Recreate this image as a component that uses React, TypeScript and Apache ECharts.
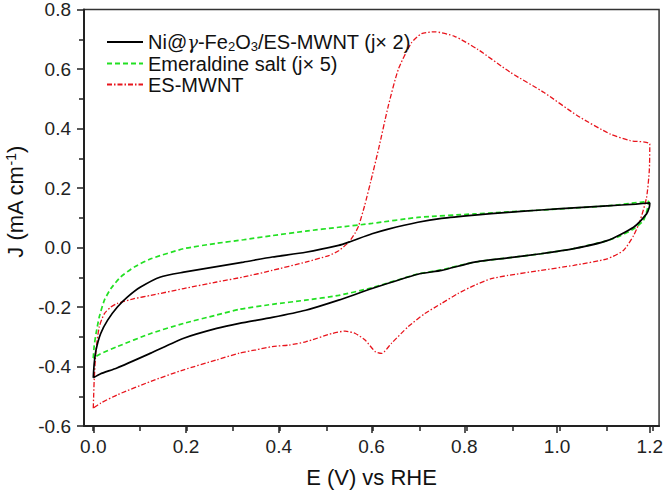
import React, { useEffect, useRef } from "react";
import * as echarts from "echarts";

// Ni@γ-Fe2O3/ES-MWNT (j×2)
const niE = [0, 0.002, 0.006, 0.016, 0.031, 0.052, 0.074, 0.102, 0.145, 0.195, 0.266, 0.324, 0.386, 0.458, 0.529, 0.551, 0.601, 0.636, 0.7, 0.751, 0.822, 0.894, 0.965, 1.036, 1.108, 1.17, 1.2, 1.199, 1.193, 1.165, 1.108, 1.036, 0.965, 0.894, 0.822, 0.751, 0.7, 0.601, 0.529, 0.458, 0.386, 0.315, 0.266, 0.195, 0.124, 0.051, 0.015, 0];
const niJ = [-0.438, -0.39, -0.344, -0.289, -0.244, -0.2, -0.166, -0.133, -0.099, -0.083, -0.064, -0.049, -0.032, -0.016, 0.007, 0.018, 0.046, 0.062, 0.085, 0.098, 0.109, 0.118, 0.126, 0.133, 0.14, 0.146, 0.15, 0.135, 0.113, 0.068, 0.023, -0.004, -0.021, -0.035, -0.049, -0.077, -0.09, -0.138, -0.177, -0.211, -0.235, -0.255, -0.272, -0.305, -0.355, -0.405, -0.425, -0.438];

// Emeraldine salt (j×5)
const esE = [0, 0.002, 0.006, 0.013, 0.024, 0.038, 0.059, 0.088, 0.124, 0.195, 0.266, 0.324, 0.386, 0.458, 0.529, 0.601, 0.7, 0.822, 0.965, 1.108, 1.179, 1.198, 1.195, 1.186, 1.165, 1.137, 1.108, 1.036, 0.965, 0.894, 0.822, 0.751, 0.7, 0.601, 0.529, 0.458, 0.386, 0.315, 0.266, 0.195, 0.124, 0.052, 0.015, 0];
const esJ = [-0.372, -0.33, -0.289, -0.233, -0.177, -0.138, -0.099, -0.066, -0.038, -0.004, 0.014, 0.026, 0.04, 0.055, 0.068, 0.081, 0.101, 0.113, 0.126, 0.14, 0.152, 0.155, 0.13, 0.09, 0.062, 0.04, 0.023, -0.004, -0.021, -0.035, -0.049, -0.075, -0.089, -0.135, -0.161, -0.177, -0.191, -0.208, -0.227, -0.255, -0.289, -0.333, -0.358, -0.372];

// ES-MWNT
const mwE = [0, 0.001, 0.002, 0.006, 0.013, 0.024, 0.038, 0.052, 0.088, 0.124, 0.195, 0.266, 0.324, 0.386, 0.458, 0.508, 0.53, 0.551, 0.565, 0.572, 0.585, 0.598, 0.615, 0.636, 0.658, 0.686, 0.708, 0.736, 0.779, 0.829, 0.9, 0.972, 1.044, 1.115, 1.158, 1.2, 1.199, 1.193, 1.179, 1.165, 1.143, 1.108, 1.036, 0.965, 0.894, 0.858, 0.822, 0.786, 0.751, 0.715, 0.679, 0.643, 0.622, 0.608, 0.586, 0.565, 0.543, 0.515, 0.458, 0.422, 0.386, 0.351, 0.315, 0.266, 0.195, 0.124, 0.052, 0.016, 0.002, 0];
const mwJ = [-0.54, -0.49, -0.445, -0.344, -0.266, -0.222, -0.2, -0.188, -0.172, -0.161, -0.138, -0.116, -0.099, -0.077, -0.049, -0.027, -0.01, 0.018, 0.05, 0.072, 0.14, 0.22, 0.33, 0.475, 0.6, 0.688, 0.719, 0.725, 0.71, 0.666, 0.588, 0.521, 0.443, 0.381, 0.359, 0.348, 0.26, 0.168, 0.09, 0.04, -0.01, -0.038, -0.06, -0.077, -0.094, -0.105, -0.127, -0.155, -0.188, -0.222, -0.266, -0.322, -0.356, -0.35, -0.311, -0.289, -0.281, -0.289, -0.317, -0.328, -0.333, -0.344, -0.355, -0.378, -0.411, -0.45, -0.495, -0.523, -0.538, -0.54];

const seriesNames = ["Ni@γ-Fe2O3/ES-MWNT (j× 2)", "Emeraldine salt (j× 5)", "ES-MWNT"];
const xMajorTicks = [0, 0.2, 0.4, 0.6, 0.8, 1.0, 1.2];

const zip = (xs: number[], ys: number[]) => xs.map((x, i) => [x, ys[i]]);
const FONT = "'Liberation Sans', Arial, sans-serif";
const fmt = (v: number) => (Math.abs(v) < 1e-9 ? "0.0" : v.toFixed(1));

export default function App() {
  const ref = useRef<HTMLDivElement>(null);
  useEffect(() => {
    if (!ref.current) return;
    const chart = echarts.init(ref.current, null, { renderer: "svg" });
    const common = { type: "line", symbol: "none", smooth: 0.2, xAxisIndex: 0, yAxisIndex: 0 };
    chart.setOption({
      animation: false,
      backgroundColor: "#fff",
      grid: [
        {
          left: 84, right: 4, top: 8, bottom: 67,
          show: true, borderColor: "#333", borderWidth: 1.5, backgroundColor: "transparent",
        },
        { left: 93, right: 13, top: 8, bottom: 67, show: false },
      ],
      legend: {
        left: 101, top: 27, orient: "vertical", itemWidth: 36, itemHeight: 14, itemGap: 1,
        data: seriesNames,
        itemStyle: { opacity: 0 },
        formatter: (name: string) =>
          name === seriesNames[0]
            ? "{t|Ni@}{g|γ}{t|-Fe}{s|2}{t|O}{s|3}{t|/ES-MWNT (j× 2)}"
            : "{t|" + name + "}",
        textStyle: {
          fontFamily: FONT, fontSize: 20, color: "#111",
          rich: {
            t: { fontFamily: FONT, fontSize: 20, color: "#111" },
            g: { fontFamily: "'DejaVu Serif', serif", fontStyle: "italic", fontSize: 18, color: "#111" },
            s: { fontFamily: FONT, fontSize: 13, color: "#111", verticalAlign: "bottom", padding: [8, 0, 0, 0] },
          },
        },
      },
      xAxis: [
        {
          type: "value", min: -0.02, max: 1.22, gridIndex: 0,
          axisLine: { show: true, onZero: false, lineStyle: { color: "#222", width: 2 } },
          axisTick: { show: true, inside: false, length: 7, customValues: xMajorTicks, lineStyle: { color: "#222", width: 1.5 } },
          axisLabel: { show: true, customValues: xMajorTicks, formatter: fmt, margin: 11, fontSize: 19, fontFamily: FONT, color: "#222" },
          splitLine: { show: false },
          name: "E (V) vs RHE", nameLocation: "middle", nameGap: 40,
          nameTextStyle: { fontSize: 22, fontFamily: FONT, color: "#111" },
        },
        {
          type: "value", min: 0, max: 1.2, interval: 0.1, gridIndex: 1,
          axisLine: { show: false, onZero: false },
          axisTick: { show: true, inside: false, length: 5, lineStyle: { color: "#222", width: 1.5 } },
          axisLabel: { show: false },
          splitLine: { show: false },
        },
      ],
      yAxis: [
        {
          type: "value", min: -0.6, max: 0.8, interval: 0.2, gridIndex: 0,
          axisLine: { show: true, onZero: false, lineStyle: { color: "#222", width: 2 } },
          axisTick: { show: true, inside: false, length: 7, lineStyle: { color: "#222", width: 1.5 } },
          minorTick: { show: true, splitNumber: 2, length: 5, lineStyle: { color: "#222", width: 1.5 } },
          axisLabel: { formatter: fmt, margin: 13, fontSize: 19, fontFamily: FONT, color: "#222" },
          splitLine: { show: false },
          minorSplitLine: { show: false },
        },
        {
          type: "value", min: -0.6, max: 0.8, gridIndex: 1, show: false,
        },
      ],
      graphic: [
        {
          type: "text", x: 15, y: 202, rotation: Math.PI / 2,
          style: {
            text: "{t|J (mA cm}{p|-1}{t|)}",
            align: "center", verticalAlign: "middle",
            rich: {
              t: { fontFamily: FONT, fontSize: 22, fill: "#111" },
              p: { fontFamily: FONT, fontSize: 14, fill: "#111", verticalAlign: "top", padding: [0, 0, 8, 0] },
            },
          },
        },
      ],
      series: [
        { ...common, name: seriesNames[0], data: zip(niE, niJ), lineStyle: { color: "#000", width: 1.7, type: "solid" }, itemStyle: { color: "#000" }, z: 4 },
        { ...common, name: seriesNames[1], data: zip(esE, esJ), lineStyle: { color: "#22e022", width: 1.7, type: [5, 3] }, itemStyle: { color: "#22e022" }, z: 3 },
        { ...common, name: seriesNames[2], data: zip(mwE, mwJ), lineStyle: { color: "#e8141c", width: 1.3, type: [5, 2, 1.5, 2] }, itemStyle: { color: "#e8141c" }, z: 2 },
      ],
    });
    return () => chart.dispose();
  }, []);
  return <div ref={ref} style={{ position: "fixed", left: 0, top: 0, width: 666, height: 493 }} />;
}
